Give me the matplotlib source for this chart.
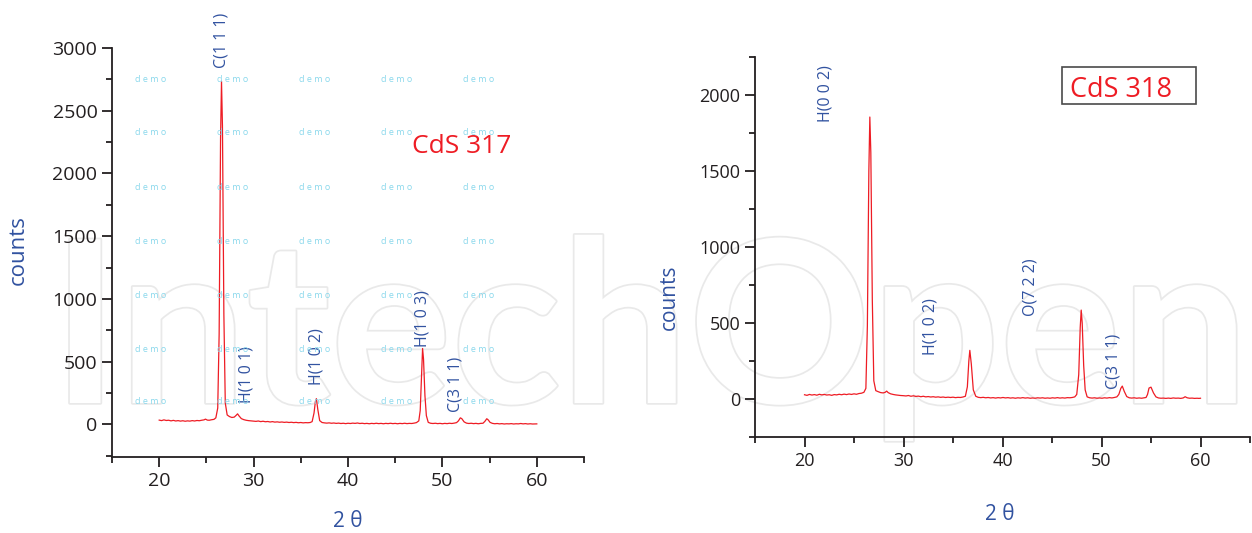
import matplotlib.pyplot as plt
import matplotlib.patheffects as pe
from matplotlib.patches import Rectangle
from matplotlib.ticker import MultipleLocator

plt.rcParams['font.family'] = ['Open Sans', 'DejaVu Sans']

# CdS 317 pattern (2theta, counts)
theta_317 = [20.0, 20.25, 20.5, 20.75, 21.0, 21.25, 21.5, 21.75, 22.0, 22.25, 22.5, 22.75,
             23.0, 23.25, 23.5, 23.75, 24.0, 24.25, 24.5, 24.75, 24.9, 25.1, 25.3, 25.55, 25.8,
             26.0, 26.2, 26.35, 26.5, 26.6, 26.7, 26.85, 27.0, 27.2, 27.45, 27.7, 27.95, 28.15,
             28.3, 28.45, 28.7, 28.95, 29.2, 29.45, 29.7, 29.95, 30.25, 30.5, 30.75, 31.0, 31.25,
             31.5, 31.75, 32.0, 32.25, 32.5, 32.75, 33.0, 33.25, 33.5, 33.75, 34.0, 34.25, 34.5,
             34.75, 35.0, 35.25, 35.5, 35.75, 36.0, 36.2, 36.4, 36.55, 36.65, 36.8, 37.0, 37.25,
             37.5, 37.75, 38.0, 38.25, 38.5, 38.75, 39.0, 39.25, 39.5, 39.75, 40.0, 40.25, 40.5,
             40.75, 41.0, 41.25, 41.5, 41.75, 42.0, 42.25, 42.5, 42.75, 43.0, 43.25, 43.5, 43.75,
             44.0, 44.25, 44.5, 44.75, 45.0, 45.25, 45.5, 45.75, 46.0, 46.25, 46.5, 46.75, 47.0,
             47.25, 47.5, 47.65, 47.8, 47.9, 48.0, 48.15, 48.3, 48.5, 48.75, 49.0, 49.25, 49.5,
             49.75, 50.0, 50.25, 50.5, 50.75, 51.0, 51.25, 51.5, 51.7, 51.9, 52.05, 52.3, 52.55,
             52.8, 53.05, 53.3, 53.55, 53.8, 54.05, 54.3, 54.5, 54.7, 54.85, 55.05, 55.3, 55.55,
             55.8, 56.05, 56.3, 56.55, 56.8, 57.05, 57.3, 57.55, 57.8, 58.05, 58.3, 58.55, 58.8,
             59.05, 59.3, 59.55, 59.8, 60.0]
counts_317 = [34, 30, 36, 31, 33, 28, 32, 27, 30, 26, 29, 25,
              28, 26, 30, 27, 31, 29, 33, 36, 42, 34, 33, 37, 40,
              52, 130, 720, 2280, 2735, 2380, 880, 170, 75, 62, 55, 58, 72,
              84, 68, 46, 38, 33, 30, 28, 26, 24, 27, 22, 25, 21,
              23, 19, 22, 18, 20, 17, 19, 16, 18, 15, 17, 14, 16,
              13, 15, 12, 14, 13, 15, 22, 90, 185, 205, 120, 30, 15,
              12, 10, 12, 9, 11, 8, 10, 7, 9, 6, 9, 7, 10,
              8, 11, 7, 9, 6, 8, 5, 8, 6, 9, 6, 8, 5,
              8, 6, 9, 6, 8, 5, 8, 6, 9, 6, 8, 7, 10,
              14, 28, 110, 420, 605, 520, 230, 70, 16, 9, 7, 9, 6,
              8, 5, 8, 6, 9, 7, 10, 14, 28, 52, 46, 20, 10,
              7, 9, 6, 8, 5, 8, 9, 24, 45, 36, 16, 8, 5,
              7, 4, 6, 3, 5, 4, 6, 3, 5, 4, 7, 4, 6,
              3, 5, 3, 4, 4]

# CdS 318 pattern (2theta, counts)
theta_318 = [20.0, 20.25, 20.5, 20.75, 21.0, 21.25, 21.5, 21.75, 22.0, 22.25, 22.5, 22.75,
             23.0, 23.25, 23.5, 23.75, 24.0, 24.25, 24.5, 24.75, 25.0, 25.25, 25.5, 25.75,
             26.0, 26.2, 26.35, 26.5, 26.6, 26.7, 26.85, 27.0, 27.2, 27.45, 27.7, 27.95, 28.15,
             28.3, 28.45, 28.7, 28.95, 29.2, 29.45, 29.7, 29.95, 30.25, 30.5, 30.75, 31.0, 31.25,
             31.5, 31.75, 32.0, 32.25, 32.5, 32.75, 33.0, 33.25, 33.5, 33.75, 34.0, 34.25, 34.5,
             34.75, 35.0, 35.25, 35.5, 35.75, 36.0, 36.25, 36.45, 36.6, 36.7, 36.85, 37.05, 37.3,
             37.55, 37.8, 38.05, 38.3, 38.55, 38.8, 39.05, 39.3, 39.55, 39.8, 40.05, 40.3, 40.55,
             40.8, 41.05, 41.3, 41.55, 41.8, 42.05, 42.3, 42.55, 42.8, 43.05, 43.3, 43.55, 43.8,
             44.05, 44.3, 44.55, 44.8, 45.05, 45.3, 45.55, 45.8, 46.05, 46.3, 46.55, 46.8, 47.05,
             47.3, 47.5, 47.7, 47.85, 47.95, 48.05, 48.2, 48.35, 48.55, 48.8, 49.05, 49.3, 49.55,
             49.8, 50.05, 50.3, 50.55, 50.8, 51.05, 51.3, 51.55, 51.75, 51.95, 52.1, 52.3, 52.55,
             52.8, 53.05, 53.3, 53.55, 53.8, 54.05, 54.3, 54.5, 54.65, 54.8, 55.0, 55.25, 55.5,
             55.75, 56.0, 56.25, 56.5, 56.75, 57.0, 57.25, 57.5, 57.75, 58.0, 58.25, 58.45, 58.65,
             58.9, 59.15, 59.4, 59.65, 59.85, 60.0]
counts_318 = [28, 24, 30, 26, 29, 25, 31, 27, 30, 26, 28, 24,
              29, 27, 31, 28, 32, 29, 33, 30, 34, 31, 36, 38,
              44, 70, 480, 1500, 1855, 1620, 650, 120, 55, 48, 42, 40, 44,
              52, 42, 34, 30, 27, 25, 23, 22, 20, 23, 18, 21, 17,
              19, 15, 18, 14, 16, 13, 15, 12, 14, 11, 13, 10, 12,
              10, 12, 9, 11, 10, 13, 18, 80, 250, 320, 230, 60, 18,
              11, 9, 11, 8, 10, 7, 9, 6, 9, 7, 10, 7, 9,
              6, 8, 5, 8, 6, 9, 6, 8, 5, 7, 5, 8, 6,
              8, 5, 7, 5, 8, 6, 9, 6, 8, 6, 9, 8, 10,
              14, 30, 160, 470, 585, 500, 220, 60, 14, 8, 6, 8, 5,
              7, 5, 8, 6, 9, 7, 10, 14, 30, 70, 85, 50, 16,
              8, 6, 8, 5, 7, 5, 8, 10, 30, 72, 78, 40, 14,
              7, 5, 6, 4, 6, 4, 7, 5, 6, 4, 7, 15, 8,
              5, 6, 4, 5, 4, 5]

# peak labels: text, 2theta position, counts position of label bottom
labels_317 = ['C(1 1 1)', 'H(1 0 1)', 'H(1 0 2)', 'H(1 0 3)', 'C(3 1 1)']
label_x_317 = [26.6, 29.2, 36.7, 47.9, 51.4]
label_y_317 = [2840, 170, 310, 620, 100]

labels_318 = ['H(0 0 2)', 'H(1 0 2)', 'O(7 2 2)', 'C(3 1 1)']
label_x_318 = [22.1, 32.7, 42.8, 51.25]
label_y_318 = [1820, 290, 545, 65]

blue = '#3152a0'
red = '#ee1c24'
ink = '#231f20'

fig = plt.figure(figsize=(12.52, 5.33), dpi=100)
W, H = 1252, 533

# faint watermark
fig.text(650 / W, 1 - 403 / H, 'IntechOpen', ha='center', va='baseline', fontsize=163,
         family='Lato', fontweight='bold', color='white', zorder=-5,
         path_effects=[pe.withStroke(linewidth=2.5, foreground='#e9e9e9')])

ax1 = fig.add_axes([112 / W, 1 - 457 / H, (584 - 112) / W, (457 - 48) / H])
ax2 = fig.add_axes([755 / W, 1 - 437 / H, (1250 - 755) / W, (437 - 57) / H])

for ax in (ax1, ax2):
    ax.set_facecolor('none')
    ax.spines['top'].set_visible(False)
    ax.spines['right'].set_visible(False)
    for s in ('left', 'bottom'):
        ax.spines[s].set_linewidth(1.3)
        ax.spines[s].set_color(ink)
    ax.set_xlim(15, 65)
    ax.xaxis.set_major_locator(MultipleLocator(10))
    ax.xaxis.set_minor_locator(MultipleLocator(5))
    ax.yaxis.set_major_locator(MultipleLocator(500))
    ax.yaxis.set_minor_locator(MultipleLocator(250))
    ax.tick_params(which='both', direction='out', color=ink, width=1.3, labelcolor=ink)
    ax.tick_params(which='major', length=7)
    ax.tick_params(which='minor', length=4)

# left panel
ax1.plot(theta_317, counts_317, color=red, lw=0.9)
ax1.set_ylim(-260, 3000)
ax1.tick_params(labelsize=14)
ax1.set_ylabel('counts', color=blue, fontsize=16)
ax1.yaxis.set_label_coords(-0.176, 0.506)
ax1.set_xlabel('2 θ', color=blue, fontsize=15)
ax1.xaxis.set_label_coords(0.5, -0.133)
for t, x, y in zip(labels_317, label_x_317, label_y_317):
    ax1.text(x, y, t, rotation=90, ha='center', va='bottom', color=blue, fontsize=11.5)
fig.text(412 / W, 1 - 153 / H, 'CdS 317', color=red, fontsize=19, va='baseline')

# "demo" grid on left panel
for cx in [151, 233, 315, 397, 479]:
    for cy in [79, 133, 187, 241, 295, 349, 402]:
        fig.text(cx / W, 1 - cy / H, 'd e m o', ha='center', va='center',
                 fontsize=6.5, color='#8ad8ec', zorder=1)

# right panel
ax2.plot(theta_318, counts_318, color=red, lw=0.9)
ax2.set_ylim(-250, 2250)
ax2.tick_params(labelsize=13)
ax2.set_ylabel('counts', color=blue, fontsize=15)
ax2.yaxis.set_label_coords(-0.152, 0.368)
ax2.set_xlabel('2 θ', color=blue, fontsize=15)
ax2.xaxis.set_label_coords(0.495, -0.176)
for t, x, y in zip(labels_318, label_x_318, label_y_318):
    ax2.text(x, y, t, rotation=90, ha='center', va='bottom', color=blue, fontsize=11.5)
fig.add_artist(Rectangle((1062 / W, 1 - 104 / H), 134 / W, 37 / H, transform=fig.transFigure,
                         fill=False, ec='#4a4a4a', lw=1.2))
fig.text(1070 / W, 1 - 97 / H, 'CdS 318', color=red, fontsize=19.5, va='baseline')

fig.savefig('out.png', dpi=100)
